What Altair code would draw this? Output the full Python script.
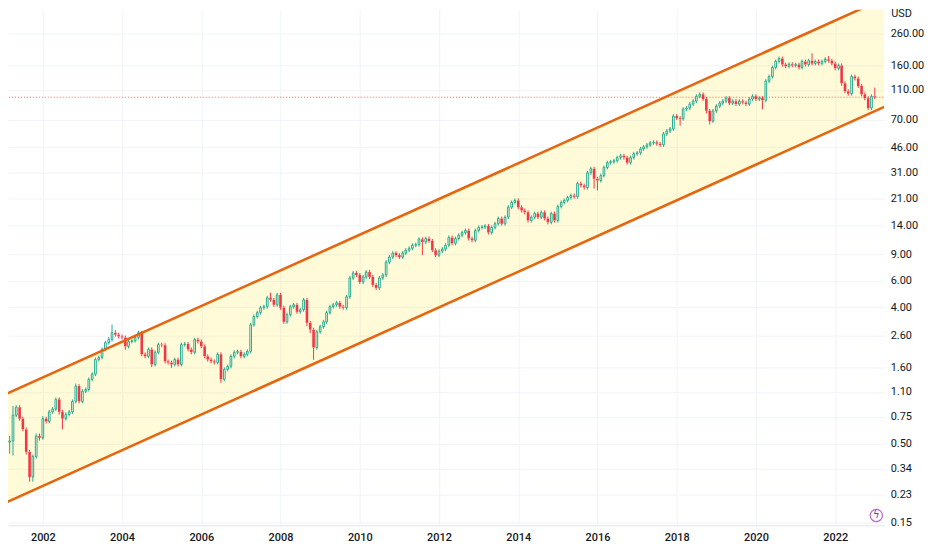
import altair as alt
import pandas as pd

# ---------------- data (monthly closes) ----------------
first_open = 1.33
c2000 = [0.82]
c2001 = [0.87, 0.51, 0.52, 0.77, 0.87, 0.73, 0.62, 0.44, 0.30, 0.41, 0.56, 0.545]
c2002 = [0.73, 0.70, 0.81, 0.845, 0.98, 0.81, 0.73, 0.78, 0.81, 0.95, 1.20, 0.95]
c2003 = [1.11, 1.14, 1.33, 1.44, 1.80, 1.86, 2.10, 2.33, 2.44, 2.71, 2.63, 2.56]
c2004 = [2.52, 2.20, 2.37, 2.40, 2.52, 2.71, 1.95, 1.89, 2.10, 1.67, 2.01, 2.26]
c2005 = [2.24, 1.75, 1.72, 1.67, 1.80, 1.67, 2.26, 2.28, 2.10, 2.01, 2.44, 2.37]
c2006 = [2.20, 1.89, 1.80, 1.75, 1.72, 1.95, 1.33, 1.55, 1.62, 1.89, 2.01, 2.03]
c2007 = [1.89, 1.95, 2.04, 3.06, 3.47, 3.68, 3.97, 4.03, 4.62, 4.48, 4.15, 4.83]
c2008 = [3.97, 3.20, 3.57, 4.03, 4.15, 3.73, 3.85, 4.48, 3.15, 2.84, 2.16, 2.75]
c2009 = [2.97, 3.20, 3.68, 4.03, 4.15, 4.28, 4.03, 3.97, 4.69, 6.25, 6.74, 6.54]
c2010 = [5.88, 6.35, 6.84, 6.35, 5.62, 5.37, 6.25, 6.54, 7.95, 8.60, 9.13, 8.85]
c2011 = [8.60, 9.13, 9.55, 9.83, 10.3, 10.4, 11.3, 10.8, 11.4, 11.0, 9.55, 8.85]
c2012 = [9.4, 9.7, 10.3, 11.6, 10.6, 11.4, 12.0, 12.5, 12.9, 11.4, 11.1, 12.9]
c2013 = [13.5, 13.6, 13.8, 12.5, 13.5, 14.3, 15.5, 14.3, 15.8, 18.4, 19.8, 20.4]
c2014 = [18.4, 17.5, 17.0, 15.0, 15.8, 16.7, 15.8, 17.0, 15.5, 14.6, 16.7, 15.0]
c2015 = [18.6, 19.8, 20.4, 21.3, 22.0, 21.6, 26.4, 25.6, 24.8, 31.1, 33.1, 28.4]
c2016 = [27.6, 29.8, 33.7, 36.3, 36.8, 37.4, 39.2, 40.3, 39.2, 36.3, 39.2, 41.6]
c2017 = [42.2, 44.8, 46.2, 47.6, 49.1, 49.5, 48.4, 47.6, 56.3, 58.9, 60.7, 73.9]
c2018 = [71.7, 71.0, 82.2, 83.5, 88.7, 92.8, 100.0, 103.0, 96.0, 80.0, 68.5, 80.0]
c2019 = [86.0, 90.0, 92.8, 97.2, 90.0, 92.8, 88.7, 92.8, 91.0, 88.7, 95.7, 100.0]
c2020 = [95.7, 97.2, 94.0, 126.0, 135.0, 155.0, 170.0, 178.0, 162.0, 158.0, 163.0, 160.0]
c2021 = [162.0, 155.0, 170.0, 162.0, 172.0, 165.0, 170.0, 165.0, 170.0, 176.0, 172.0, 165.0]
c2022 = [153.0, 160.0, 122.0, 108.0, 104.0, 135.0, 131.0, 117.0, 103.0, 97.0, 83.5, 100.0]
c2023 = [98.5]

# wick lengths beyond the body, in percent
u2000 = [3]
d2000 = [5]
u2001 = [4, 3, 8, 15, 3, 3, 3, 3, 3, 3, 4, 4]
d2001 = [5, 10, 16, 20, 3, 3, 3, 4, 7, 7, 3, 4]
u2002 = [4, 3, 3, 3, 3, 3, 3, 3, 3, 3, 4, 3]
d2002 = [3, 3, 3, 3, 3, 4, 15, 3, 3, 3, 3, 3]
u2003 = [3, 3, 3, 3, 3, 3, 3, 3, 4, 13, 4, 3]
d2003 = [3, 3, 3, 3, 3, 3, 3, 3, 3, 3, 3, 3]
u2004 = [3, 3, 3, 3, 3, 3, 3, 3, 3, 3, 3, 3]
d2004 = [3, 5, 3, 3, 3, 3, 3, 3, 3, 4, 3, 3]
u2005 = [3, 3, 3, 3, 3, 3, 3, 3, 3, 3, 3, 3]
d2005 = [3, 3, 3, 5, 3, 3, 3, 3, 3, 3, 3, 3]
u2006 = [3, 3, 3, 3, 3, 3, 3, 3, 3, 3, 3, 3]
d2006 = [3, 3, 3, 3, 3, 3, 5, 3, 3, 3, 3, 3]
u2007 = [3, 3, 3, 3, 3, 3, 3, 3, 3, 8, 3, 3]
d2007 = [3, 3, 3, 3, 3, 3, 3, 3, 3, 3, 3, 3]
u2008 = [3, 3, 3, 3, 3, 3, 3, 3, 3, 3, 3, 3]
d2008 = [3, 3, 3, 3, 3, 3, 3, 3, 5, 5, 17, 3]
u2009 = [3, 3, 3, 3, 3, 3, 3, 3, 3, 3, 3, 3]
d2009 = [3, 3, 3, 3, 3, 3, 3, 3, 3, 3, 3, 3]
u2010 = [3, 3, 3, 3, 3, 3, 3, 3, 3, 3, 3, 3]
d2010 = [3, 3, 3, 3, 3, 3, 3, 3, 3, 3, 3, 3]
u2011 = [3, 3, 3, 3, 3, 3, 3, 3, 3, 3, 3, 3]
d2011 = [3, 3, 3, 3, 3, 3, 3, 18, 3, 3, 3, 3]
u2012 = [3, 3, 3, 3, 3, 3, 3, 3, 3, 3, 3, 3]
d2012 = [3, 3, 3, 3, 3, 3, 3, 3, 3, 3, 3, 3]
u2013 = [3, 3, 3, 3, 3, 3, 3, 3, 3, 3, 3, 3]
d2013 = [3, 3, 3, 3, 3, 3, 3, 3, 3, 3, 3, 3]
u2014 = [3, 3, 3, 3, 3, 3, 3, 3, 3, 3, 3, 3]
d2014 = [3, 3, 3, 3, 3, 3, 3, 3, 3, 3, 3, 3]
u2015 = [3, 3, 3, 3, 3, 3, 3, 3, 3, 3, 3, 3]
d2015 = [3, 3, 3, 3, 3, 3, 3, 3, 3, 3, 3, 14]
u2016 = [3, 3, 3, 3, 3, 3, 3, 3, 3, 3, 3, 3]
d2016 = [14, 3, 3, 3, 3, 3, 3, 3, 3, 3, 3, 3]
u2017 = [3, 3, 3, 3, 3, 3, 3, 3, 3, 3, 3, 3]
d2017 = [3, 3, 3, 3, 3, 3, 3, 3, 3, 3, 3, 3]
u2018 = [3, 3, 3, 3, 3, 3, 3, 3, 3, 3, 3, 3]
d2018 = [3, 10, 3, 3, 3, 3, 3, 3, 3, 4, 5, 3]
u2019 = [3, 3, 3, 3, 3, 3, 3, 3, 3, 3, 3, 3]
d2019 = [3, 3, 3, 3, 3, 3, 3, 3, 3, 3, 3, 3]
u2020 = [3, 3, 3, 3, 3, 3, 3, 3, 3, 3, 3, 3]
d2020 = [3, 3, 13, 3, 3, 3, 3, 3, 3, 3, 3, 3]
u2021 = [3, 3, 3, 3, 3, 12, 3, 3, 3, 3, 5, 3]
d2021 = [3, 3, 3, 3, 3, 3, 3, 3, 3, 3, 3, 3]
u2022 = [3, 3, 3, 3, 3, 3, 3, 3, 3, 3, 3, 3]
d2022 = [3, 3, 4, 3, 3, 3, 3, 3, 3, 3, 3, 3]
u2023 = [14]
d2023 = [3]

# channel (two parallel lines), end points beyond the left/right edges
chan_dates = ["2000-12-03T00:00:00", "2023-03-29T00:00:00"]
chan_upper = [1.02, 445.0]
chan_lower = [0.195, 85.1]

last_price = 98.5
y_ticks = [0.15, 0.23, 0.34, 0.50, 0.75, 1.10, 1.60, 2.60, 4.00, 6.00, 9.00,
           14.0, 21.0, 31.0, 46.0, 70.0, 110.0, 160.0, 260.0]
year_ticks = [2002, 2004, 2006, 2008, 2010, 2012, 2014, 2016, 2018, 2020, 2022]

# ---------------- build table ----------------
years = list(range(2000, 2024))
closes, ups, downs = [], [], []
for y in years:
    closes += globals()[f"c{y}"]
    ups += globals()[f"u{y}"]
    downs += globals()[f"d{y}"]

dates = pd.date_range("2000-12-01", periods=len(closes), freq="MS")
opens = [first_open] + closes[:-1]
rows = []
for d, o, c, u, dn in zip(dates, opens, closes, ups, downs):
    top, bot = max(o, c), min(o, c)
    rows.append(dict(date=d.strftime("%Y-%m-%dT00:00:00"), open=o, close=c,
                     top=top, bot=bot, high=top * (1 + u / 100.0),
                     low=bot * (1 - dn / 100.0),
                     dir="up" if c >= o else "down"))
df = pd.DataFrame(rows)
chan = pd.DataFrame({"date": chan_dates, "upper": chan_upper, "lower": chan_lower})
pl = pd.DataFrame({"date": chan_dates, "p": [last_price, last_price]})

W, H = 882, 519
GREEN, RED = "#22ab94", "#f23645"
ORANGE = "#e6650f"
FONT = "Roboto"

x_scale = alt.Scale(domain=[alt.DateTime(year=2001, month=2, date=14),
                            alt.DateTime(year=2023, month=3, date=29)],
                    padding=0, nice=False)
y_scale = alt.Scale(type="log", domain=[0.1433, 374.1], nice=False, padding=0)

x_axis = alt.Axis(values=[alt.DateTime(year=y, month=1, date=1) for y in year_ticks],
                  format="%Y", title=None, ticks=False, domain=True,
                  domainColor="#e0e3eb", grid=True, gridColor="#f0f3fa",
                  labelFont=FONT, labelFontSize=11, labelColor="#131722",
                  labelFontWeight=500,
                  labelPadding=6, labelOverlap=False, labelFlush=False)
y_axis = alt.Axis(orient="right", values=y_ticks, format=".2f", title=None,
                  ticks=False, domain=False, grid=True, gridColor="#f0f3fa",
                  labelFont=FONT, labelFontSize=11, labelColor="#131722",
                  labelPadding=6, labelOverlap=False, labelFlush=False)


def X():
    return alt.X("date:T", scale=x_scale, axis=x_axis, title=None)


def Y(field):
    return alt.Y(field, type="quantitative", scale=y_scale, axis=y_axis, title=None)


fill = alt.Chart(chan).mark_area(color="#ffeb3b", opacity=0.2, clip=True).encode(
    x=X(), y=Y("lower"), y2="upper:Q")

price_line = alt.Chart(pl).mark_line(
    color=RED, strokeDash=[1, 2], strokeWidth=1, opacity=0.8, clip=True).encode(
    x=X(), y=Y("p"))

color = alt.Color("dir:N", scale=alt.Scale(domain=["up", "down"], range=[GREEN, RED]),
                  legend=None)
base = alt.Chart(df)
wick_hi = base.mark_rule(strokeWidth=1, clip=True).encode(
    x=X(), y=Y("top"), y2="high:Q", color=color)
wick_lo = base.mark_rule(strokeWidth=1, clip=True).encode(
    x=X(), y=Y("low"), y2="bot:Q", color=color)
body_dn = base.transform_filter(alt.datum.dir == "down").mark_bar(
    size=2.6, color=RED, clip=True).encode(x=X(), y=Y("open"), y2="close:Q")
body_up = base.transform_filter(alt.datum.dir == "up").mark_bar(
    size=1.7, filled=False, color=GREEN, strokeWidth=1, clip=True).encode(
    x=X(), y=Y("open"), y2="close:Q")

upper_line = alt.Chart(chan).mark_line(color=ORANGE, strokeWidth=2.6, clip=True).encode(
    x=X(), y=Y("upper"))
lower_line = alt.Chart(chan).mark_line(color=ORANGE, strokeWidth=2.6, clip=True).encode(
    x=X(), y=Y("lower"))

usd = alt.Chart(pd.DataFrame({"t": ["USD"]})).mark_text(
    align="left", baseline="middle", font=FONT, fontSize=11, color="#131722").encode(
    text="t:N", x=alt.value(W + 7), y=alt.value(4))

icon = alt.Chart(pd.DataFrame({"t": ["ϟ"]})).mark_point(
    shape="circle", size=150, filled=False, color="#9c27b0", strokeWidth=1.2).encode(
    x=alt.value(874), y=alt.value(509))
icon_txt = alt.Chart(pd.DataFrame({"t": ["ϟ"]})).mark_text(
    align="center", baseline="middle", font="DejaVu Sans", fontSize=10,
    color="#9c27b0").encode(text="t:N", x=alt.value(874), y=alt.value(509))

chart = alt.layer(
    fill, price_line, wick_hi, wick_lo, body_dn, body_up, upper_line, lower_line,
    usd, icon, icon_txt
).properties(
    width=W, height=H,
    autosize=alt.AutoSizeParams(type="none"),
    padding={"left": 0, "top": 0, "right": 40, "bottom": 24},
    background="white",
).configure_view(stroke=None)

chart.save("out.html", embed_options={"renderer": "svg", "actions": False})
